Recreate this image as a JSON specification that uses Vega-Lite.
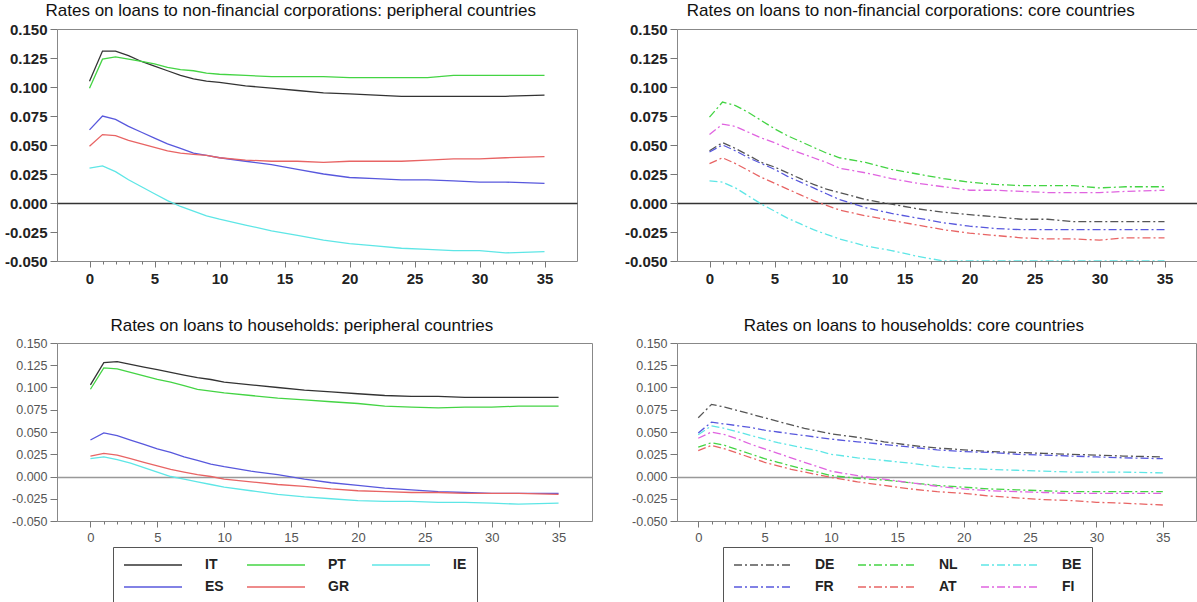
{
  "$schema": "https://vega.github.io/schema/vega-lite/v6.json",
  "padding": {"left": 3, "top": 1, "right": 0, "bottom": 0},
  "config": {
    "font": "Liberation Sans",
    "view": {"stroke": "#888888", "strokeWidth": 1},
    "title": {"fontSize": 17, "fontWeight": "normal", "color": "#111111", "anchor": "middle", "frame": "bounds", "offset": 2},
    "axis": {"domain": false, "grid": false, "tickColor": "#777777", "labelOverlap": false, "labelFlush": false}
  },
  "datasets": {
    "nfcPer": [
      {"c":"IT","x":0,"y":0.105},{"c":"IT","x":1,"y":0.131},{"c":"IT","x":2,"y":0.131},{"c":"IT","x":3,"y":0.127},{"c":"IT","x":4,"y":0.122},{"c":"IT","x":5,"y":0.118},{"c":"IT","x":6,"y":0.114},{"c":"IT","x":7,"y":0.110},{"c":"IT","x":8,"y":0.107},{"c":"IT","x":9,"y":0.105},{"c":"IT","x":10,"y":0.104},{"c":"IT","x":12,"y":0.101},{"c":"IT","x":14,"y":0.099},{"c":"IT","x":16,"y":0.097},{"c":"IT","x":18,"y":0.095},{"c":"IT","x":20,"y":0.094},{"c":"IT","x":22,"y":0.093},{"c":"IT","x":24,"y":0.092},{"c":"IT","x":26,"y":0.092},{"c":"IT","x":28,"y":0.092},{"c":"IT","x":30,"y":0.092},{"c":"IT","x":32,"y":0.092},{"c":"IT","x":35,"y":0.093},
      {"c":"PT","x":0,"y":0.099},{"c":"PT","x":1,"y":0.124},{"c":"PT","x":2,"y":0.126},{"c":"PT","x":3,"y":0.124},{"c":"PT","x":4,"y":0.122},{"c":"PT","x":5,"y":0.120},{"c":"PT","x":6,"y":0.117},{"c":"PT","x":7,"y":0.115},{"c":"PT","x":8,"y":0.114},{"c":"PT","x":9,"y":0.112},{"c":"PT","x":10,"y":0.111},{"c":"PT","x":12,"y":0.110},{"c":"PT","x":14,"y":0.109},{"c":"PT","x":16,"y":0.109},{"c":"PT","x":18,"y":0.109},{"c":"PT","x":20,"y":0.108},{"c":"PT","x":22,"y":0.108},{"c":"PT","x":24,"y":0.108},{"c":"PT","x":26,"y":0.108},{"c":"PT","x":28,"y":0.110},{"c":"PT","x":30,"y":0.110},{"c":"PT","x":32,"y":0.110},{"c":"PT","x":35,"y":0.110},
      {"c":"IE","x":0,"y":0.030},{"c":"IE","x":1,"y":0.032},{"c":"IE","x":2,"y":0.027},{"c":"IE","x":3,"y":0.020},{"c":"IE","x":4,"y":0.014},{"c":"IE","x":5,"y":0.008},{"c":"IE","x":6,"y":0.002},{"c":"IE","x":7,"y":-0.003},{"c":"IE","x":8,"y":-0.007},{"c":"IE","x":9,"y":-0.011},{"c":"IE","x":10,"y":-0.014},{"c":"IE","x":12,"y":-0.019},{"c":"IE","x":14,"y":-0.024},{"c":"IE","x":16,"y":-0.028},{"c":"IE","x":18,"y":-0.032},{"c":"IE","x":20,"y":-0.035},{"c":"IE","x":22,"y":-0.037},{"c":"IE","x":24,"y":-0.039},{"c":"IE","x":26,"y":-0.040},{"c":"IE","x":28,"y":-0.041},{"c":"IE","x":30,"y":-0.041},{"c":"IE","x":32,"y":-0.043},{"c":"IE","x":35,"y":-0.042},
      {"c":"ES","x":0,"y":0.063},{"c":"ES","x":1,"y":0.075},{"c":"ES","x":2,"y":0.072},{"c":"ES","x":3,"y":0.066},{"c":"ES","x":4,"y":0.061},{"c":"ES","x":5,"y":0.056},{"c":"ES","x":6,"y":0.051},{"c":"ES","x":7,"y":0.047},{"c":"ES","x":8,"y":0.043},{"c":"ES","x":9,"y":0.041},{"c":"ES","x":10,"y":0.039},{"c":"ES","x":12,"y":0.036},{"c":"ES","x":14,"y":0.033},{"c":"ES","x":16,"y":0.029},{"c":"ES","x":18,"y":0.025},{"c":"ES","x":20,"y":0.022},{"c":"ES","x":22,"y":0.021},{"c":"ES","x":24,"y":0.020},{"c":"ES","x":26,"y":0.020},{"c":"ES","x":28,"y":0.019},{"c":"ES","x":30,"y":0.018},{"c":"ES","x":32,"y":0.018},{"c":"ES","x":35,"y":0.017},
      {"c":"GR","x":0,"y":0.049},{"c":"GR","x":1,"y":0.059},{"c":"GR","x":2,"y":0.058},{"c":"GR","x":3,"y":0.054},{"c":"GR","x":4,"y":0.051},{"c":"GR","x":5,"y":0.048},{"c":"GR","x":6,"y":0.045},{"c":"GR","x":7,"y":0.043},{"c":"GR","x":8,"y":0.042},{"c":"GR","x":9,"y":0.041},{"c":"GR","x":10,"y":0.039},{"c":"GR","x":12,"y":0.037},{"c":"GR","x":14,"y":0.036},{"c":"GR","x":16,"y":0.036},{"c":"GR","x":18,"y":0.035},{"c":"GR","x":20,"y":0.036},{"c":"GR","x":22,"y":0.036},{"c":"GR","x":24,"y":0.036},{"c":"GR","x":26,"y":0.037},{"c":"GR","x":28,"y":0.038},{"c":"GR","x":30,"y":0.038},{"c":"GR","x":32,"y":0.039},{"c":"GR","x":35,"y":0.040}
    ],
    "nfcCore": [
      {"c":"DE","x":0,"y":0.045},{"c":"DE","x":1,"y":0.052},{"c":"DE","x":2,"y":0.047},{"c":"DE","x":3,"y":0.041},{"c":"DE","x":4,"y":0.035},{"c":"DE","x":5,"y":0.031},{"c":"DE","x":6,"y":0.026},{"c":"DE","x":7,"y":0.021},{"c":"DE","x":8,"y":0.016},{"c":"DE","x":9,"y":0.012},{"c":"DE","x":10,"y":0.009},{"c":"DE","x":12,"y":0.003},{"c":"DE","x":14,"y":-0.001},{"c":"DE","x":16,"y":-0.005},{"c":"DE","x":18,"y":-0.008},{"c":"DE","x":20,"y":-0.010},{"c":"DE","x":22,"y":-0.012},{"c":"DE","x":24,"y":-0.014},{"c":"DE","x":26,"y":-0.014},{"c":"DE","x":28,"y":-0.016},{"c":"DE","x":30,"y":-0.016},{"c":"DE","x":32,"y":-0.016},{"c":"DE","x":35,"y":-0.016},
      {"c":"NL","x":0,"y":0.074},{"c":"NL","x":1,"y":0.087},{"c":"NL","x":2,"y":0.084},{"c":"NL","x":3,"y":0.078},{"c":"NL","x":4,"y":0.071},{"c":"NL","x":5,"y":0.064},{"c":"NL","x":6,"y":0.058},{"c":"NL","x":7,"y":0.053},{"c":"NL","x":8,"y":0.048},{"c":"NL","x":9,"y":0.043},{"c":"NL","x":10,"y":0.039},{"c":"NL","x":12,"y":0.035},{"c":"NL","x":14,"y":0.029},{"c":"NL","x":16,"y":0.025},{"c":"NL","x":18,"y":0.021},{"c":"NL","x":20,"y":0.018},{"c":"NL","x":22,"y":0.016},{"c":"NL","x":24,"y":0.015},{"c":"NL","x":26,"y":0.015},{"c":"NL","x":28,"y":0.015},{"c":"NL","x":30,"y":0.013},{"c":"NL","x":32,"y":0.014},{"c":"NL","x":35,"y":0.014},
      {"c":"BE","x":0,"y":0.019},{"c":"BE","x":1,"y":0.018},{"c":"BE","x":2,"y":0.013},{"c":"BE","x":3,"y":0.006},{"c":"BE","x":4,"y":-0.001},{"c":"BE","x":5,"y":-0.007},{"c":"BE","x":6,"y":-0.013},{"c":"BE","x":7,"y":-0.018},{"c":"BE","x":8,"y":-0.023},{"c":"BE","x":9,"y":-0.027},{"c":"BE","x":10,"y":-0.031},{"c":"BE","x":12,"y":-0.037},{"c":"BE","x":14,"y":-0.041},{"c":"BE","x":16,"y":-0.046},{"c":"BE","x":18,"y":-0.050},{"c":"BE","x":20,"y":-0.050},{"c":"BE","x":22,"y":-0.050},{"c":"BE","x":24,"y":-0.050},{"c":"BE","x":26,"y":-0.050},{"c":"BE","x":28,"y":-0.050},{"c":"BE","x":30,"y":-0.050},{"c":"BE","x":32,"y":-0.050},{"c":"BE","x":35,"y":-0.050},
      {"c":"FR","x":0,"y":0.044},{"c":"FR","x":1,"y":0.050},{"c":"FR","x":2,"y":0.045},{"c":"FR","x":3,"y":0.039},{"c":"FR","x":4,"y":0.034},{"c":"FR","x":5,"y":0.029},{"c":"FR","x":6,"y":0.023},{"c":"FR","x":7,"y":0.018},{"c":"FR","x":8,"y":0.013},{"c":"FR","x":9,"y":0.008},{"c":"FR","x":10,"y":0.003},{"c":"FR","x":12,"y":-0.004},{"c":"FR","x":14,"y":-0.009},{"c":"FR","x":16,"y":-0.013},{"c":"FR","x":18,"y":-0.017},{"c":"FR","x":20,"y":-0.020},{"c":"FR","x":22,"y":-0.022},{"c":"FR","x":24,"y":-0.023},{"c":"FR","x":26,"y":-0.023},{"c":"FR","x":28,"y":-0.023},{"c":"FR","x":30,"y":-0.023},{"c":"FR","x":32,"y":-0.023},{"c":"FR","x":35,"y":-0.023},
      {"c":"AT","x":0,"y":0.034},{"c":"AT","x":1,"y":0.039},{"c":"AT","x":2,"y":0.034},{"c":"AT","x":3,"y":0.028},{"c":"AT","x":4,"y":0.022},{"c":"AT","x":5,"y":0.017},{"c":"AT","x":6,"y":0.012},{"c":"AT","x":7,"y":0.007},{"c":"AT","x":8,"y":0.002},{"c":"AT","x":9,"y":-0.002},{"c":"AT","x":10,"y":-0.006},{"c":"AT","x":12,"y":-0.011},{"c":"AT","x":14,"y":-0.015},{"c":"AT","x":16,"y":-0.019},{"c":"AT","x":18,"y":-0.023},{"c":"AT","x":20,"y":-0.026},{"c":"AT","x":22,"y":-0.028},{"c":"AT","x":24,"y":-0.030},{"c":"AT","x":26,"y":-0.031},{"c":"AT","x":28,"y":-0.031},{"c":"AT","x":30,"y":-0.032},{"c":"AT","x":32,"y":-0.030},{"c":"AT","x":35,"y":-0.030},
      {"c":"FI","x":0,"y":0.059},{"c":"FI","x":1,"y":0.068},{"c":"FI","x":2,"y":0.066},{"c":"FI","x":3,"y":0.061},{"c":"FI","x":4,"y":0.056},{"c":"FI","x":5,"y":0.052},{"c":"FI","x":6,"y":0.047},{"c":"FI","x":7,"y":0.043},{"c":"FI","x":8,"y":0.039},{"c":"FI","x":9,"y":0.035},{"c":"FI","x":10,"y":0.030},{"c":"FI","x":12,"y":0.026},{"c":"FI","x":14,"y":0.021},{"c":"FI","x":16,"y":0.017},{"c":"FI","x":18,"y":0.014},{"c":"FI","x":20,"y":0.011},{"c":"FI","x":22,"y":0.011},{"c":"FI","x":24,"y":0.010},{"c":"FI","x":26,"y":0.009},{"c":"FI","x":28,"y":0.009},{"c":"FI","x":30,"y":0.009},{"c":"FI","x":32,"y":0.010},{"c":"FI","x":35,"y":0.011}
    ],
    "hhPer": [
      {"c":"IT","x":0,"y":0.103},{"c":"IT","x":1,"y":0.128},{"c":"IT","x":2,"y":0.129},{"c":"IT","x":3,"y":0.126},{"c":"IT","x":4,"y":0.123},{"c":"IT","x":5,"y":0.120},{"c":"IT","x":6,"y":0.117},{"c":"IT","x":7,"y":0.114},{"c":"IT","x":8,"y":0.111},{"c":"IT","x":9,"y":0.109},{"c":"IT","x":10,"y":0.106},{"c":"IT","x":12,"y":0.103},{"c":"IT","x":14,"y":0.100},{"c":"IT","x":16,"y":0.097},{"c":"IT","x":18,"y":0.095},{"c":"IT","x":20,"y":0.093},{"c":"IT","x":22,"y":0.091},{"c":"IT","x":24,"y":0.090},{"c":"IT","x":26,"y":0.090},{"c":"IT","x":28,"y":0.089},{"c":"IT","x":30,"y":0.089},{"c":"IT","x":32,"y":0.089},{"c":"IT","x":35,"y":0.089},
      {"c":"PT","x":0,"y":0.098},{"c":"PT","x":1,"y":0.122},{"c":"PT","x":2,"y":0.121},{"c":"PT","x":3,"y":0.117},{"c":"PT","x":4,"y":0.113},{"c":"PT","x":5,"y":0.109},{"c":"PT","x":6,"y":0.106},{"c":"PT","x":7,"y":0.102},{"c":"PT","x":8,"y":0.098},{"c":"PT","x":9,"y":0.096},{"c":"PT","x":10,"y":0.094},{"c":"PT","x":12,"y":0.091},{"c":"PT","x":14,"y":0.088},{"c":"PT","x":16,"y":0.086},{"c":"PT","x":18,"y":0.084},{"c":"PT","x":20,"y":0.082},{"c":"PT","x":22,"y":0.079},{"c":"PT","x":24,"y":0.078},{"c":"PT","x":26,"y":0.077},{"c":"PT","x":28,"y":0.078},{"c":"PT","x":30,"y":0.078},{"c":"PT","x":32,"y":0.079},{"c":"PT","x":35,"y":0.079},
      {"c":"IE","x":0,"y":0.020},{"c":"IE","x":1,"y":0.022},{"c":"IE","x":2,"y":0.019},{"c":"IE","x":3,"y":0.015},{"c":"IE","x":4,"y":0.010},{"c":"IE","x":5,"y":0.005},{"c":"IE","x":6,"y":0.000},{"c":"IE","x":7,"y":-0.003},{"c":"IE","x":8,"y":-0.006},{"c":"IE","x":9,"y":-0.009},{"c":"IE","x":10,"y":-0.012},{"c":"IE","x":12,"y":-0.016},{"c":"IE","x":14,"y":-0.020},{"c":"IE","x":16,"y":-0.023},{"c":"IE","x":18,"y":-0.025},{"c":"IE","x":20,"y":-0.027},{"c":"IE","x":22,"y":-0.028},{"c":"IE","x":24,"y":-0.028},{"c":"IE","x":26,"y":-0.029},{"c":"IE","x":28,"y":-0.029},{"c":"IE","x":30,"y":-0.030},{"c":"IE","x":32,"y":-0.031},{"c":"IE","x":35,"y":-0.030},
      {"c":"ES","x":0,"y":0.041},{"c":"ES","x":1,"y":0.049},{"c":"ES","x":2,"y":0.046},{"c":"ES","x":3,"y":0.041},{"c":"ES","x":4,"y":0.036},{"c":"ES","x":5,"y":0.031},{"c":"ES","x":6,"y":0.027},{"c":"ES","x":7,"y":0.022},{"c":"ES","x":8,"y":0.018},{"c":"ES","x":9,"y":0.014},{"c":"ES","x":10,"y":0.011},{"c":"ES","x":12,"y":0.006},{"c":"ES","x":14,"y":0.002},{"c":"ES","x":16,"y":-0.003},{"c":"ES","x":18,"y":-0.007},{"c":"ES","x":20,"y":-0.010},{"c":"ES","x":22,"y":-0.013},{"c":"ES","x":24,"y":-0.015},{"c":"ES","x":26,"y":-0.017},{"c":"ES","x":28,"y":-0.018},{"c":"ES","x":30,"y":-0.019},{"c":"ES","x":32,"y":-0.019},{"c":"ES","x":35,"y":-0.019},
      {"c":"GR","x":0,"y":0.023},{"c":"GR","x":1,"y":0.026},{"c":"GR","x":2,"y":0.024},{"c":"GR","x":3,"y":0.020},{"c":"GR","x":4,"y":0.016},{"c":"GR","x":5,"y":0.012},{"c":"GR","x":6,"y":0.008},{"c":"GR","x":7,"y":0.005},{"c":"GR","x":8,"y":0.002},{"c":"GR","x":9,"y":0.000},{"c":"GR","x":10,"y":-0.003},{"c":"GR","x":12,"y":-0.006},{"c":"GR","x":14,"y":-0.009},{"c":"GR","x":16,"y":-0.011},{"c":"GR","x":18,"y":-0.014},{"c":"GR","x":20,"y":-0.016},{"c":"GR","x":22,"y":-0.017},{"c":"GR","x":24,"y":-0.018},{"c":"GR","x":26,"y":-0.018},{"c":"GR","x":28,"y":-0.019},{"c":"GR","x":30,"y":-0.019},{"c":"GR","x":32,"y":-0.019},{"c":"GR","x":35,"y":-0.020}
    ],
    "hhCore": [
      {"c":"DE","x":0,"y":0.066},{"c":"DE","x":1,"y":0.081},{"c":"DE","x":2,"y":0.078},{"c":"DE","x":3,"y":0.074},{"c":"DE","x":4,"y":0.070},{"c":"DE","x":5,"y":0.066},{"c":"DE","x":6,"y":0.062},{"c":"DE","x":7,"y":0.058},{"c":"DE","x":8,"y":0.054},{"c":"DE","x":9,"y":0.051},{"c":"DE","x":10,"y":0.048},{"c":"DE","x":12,"y":0.044},{"c":"DE","x":14,"y":0.039},{"c":"DE","x":16,"y":0.035},{"c":"DE","x":18,"y":0.032},{"c":"DE","x":20,"y":0.030},{"c":"DE","x":22,"y":0.028},{"c":"DE","x":24,"y":0.027},{"c":"DE","x":26,"y":0.026},{"c":"DE","x":28,"y":0.025},{"c":"DE","x":30,"y":0.024},{"c":"DE","x":32,"y":0.023},{"c":"DE","x":35,"y":0.022},
      {"c":"NL","x":0,"y":0.033},{"c":"NL","x":1,"y":0.038},{"c":"NL","x":2,"y":0.035},{"c":"NL","x":3,"y":0.030},{"c":"NL","x":4,"y":0.025},{"c":"NL","x":5,"y":0.020},{"c":"NL","x":6,"y":0.016},{"c":"NL","x":7,"y":0.012},{"c":"NL","x":8,"y":0.008},{"c":"NL","x":9,"y":0.005},{"c":"NL","x":10,"y":0.001},{"c":"NL","x":12,"y":-0.002},{"c":"NL","x":14,"y":-0.004},{"c":"NL","x":16,"y":-0.007},{"c":"NL","x":18,"y":-0.010},{"c":"NL","x":20,"y":-0.012},{"c":"NL","x":22,"y":-0.014},{"c":"NL","x":24,"y":-0.015},{"c":"NL","x":26,"y":-0.016},{"c":"NL","x":28,"y":-0.017},{"c":"NL","x":30,"y":-0.017},{"c":"NL","x":32,"y":-0.017},{"c":"NL","x":35,"y":-0.017},
      {"c":"BE","x":0,"y":0.047},{"c":"BE","x":1,"y":0.057},{"c":"BE","x":2,"y":0.054},{"c":"BE","x":3,"y":0.050},{"c":"BE","x":4,"y":0.046},{"c":"BE","x":5,"y":0.042},{"c":"BE","x":6,"y":0.038},{"c":"BE","x":7,"y":0.035},{"c":"BE","x":8,"y":0.032},{"c":"BE","x":9,"y":0.029},{"c":"BE","x":10,"y":0.025},{"c":"BE","x":12,"y":0.021},{"c":"BE","x":14,"y":0.018},{"c":"BE","x":16,"y":0.015},{"c":"BE","x":18,"y":0.011},{"c":"BE","x":20,"y":0.009},{"c":"BE","x":22,"y":0.008},{"c":"BE","x":24,"y":0.007},{"c":"BE","x":26,"y":0.006},{"c":"BE","x":28,"y":0.005},{"c":"BE","x":30,"y":0.005},{"c":"BE","x":32,"y":0.005},{"c":"BE","x":35,"y":0.004},
      {"c":"FR","x":0,"y":0.049},{"c":"FR","x":1,"y":0.061},{"c":"FR","x":2,"y":0.059},{"c":"FR","x":3,"y":0.057},{"c":"FR","x":4,"y":0.055},{"c":"FR","x":5,"y":0.052},{"c":"FR","x":6,"y":0.050},{"c":"FR","x":7,"y":0.048},{"c":"FR","x":8,"y":0.046},{"c":"FR","x":9,"y":0.044},{"c":"FR","x":10,"y":0.042},{"c":"FR","x":12,"y":0.039},{"c":"FR","x":14,"y":0.036},{"c":"FR","x":16,"y":0.033},{"c":"FR","x":18,"y":0.030},{"c":"FR","x":20,"y":0.028},{"c":"FR","x":22,"y":0.027},{"c":"FR","x":24,"y":0.025},{"c":"FR","x":26,"y":0.024},{"c":"FR","x":28,"y":0.023},{"c":"FR","x":30,"y":0.022},{"c":"FR","x":32,"y":0.021},{"c":"FR","x":35,"y":0.020},
      {"c":"AT","x":0,"y":0.029},{"c":"AT","x":1,"y":0.035},{"c":"AT","x":2,"y":0.031},{"c":"AT","x":3,"y":0.026},{"c":"AT","x":4,"y":0.021},{"c":"AT","x":5,"y":0.016},{"c":"AT","x":6,"y":0.012},{"c":"AT","x":7,"y":0.008},{"c":"AT","x":8,"y":0.005},{"c":"AT","x":9,"y":0.002},{"c":"AT","x":10,"y":-0.001},{"c":"AT","x":12,"y":-0.006},{"c":"AT","x":14,"y":-0.010},{"c":"AT","x":16,"y":-0.014},{"c":"AT","x":18,"y":-0.017},{"c":"AT","x":20,"y":-0.019},{"c":"AT","x":22,"y":-0.022},{"c":"AT","x":24,"y":-0.024},{"c":"AT","x":26,"y":-0.026},{"c":"AT","x":28,"y":-0.027},{"c":"AT","x":30,"y":-0.029},{"c":"AT","x":32,"y":-0.030},{"c":"AT","x":35,"y":-0.032},
      {"c":"FI","x":0,"y":0.043},{"c":"FI","x":1,"y":0.050},{"c":"FI","x":2,"y":0.047},{"c":"FI","x":3,"y":0.042},{"c":"FI","x":4,"y":0.036},{"c":"FI","x":5,"y":0.031},{"c":"FI","x":6,"y":0.026},{"c":"FI","x":7,"y":0.021},{"c":"FI","x":8,"y":0.016},{"c":"FI","x":9,"y":0.011},{"c":"FI","x":10,"y":0.006},{"c":"FI","x":12,"y":0.001},{"c":"FI","x":14,"y":-0.003},{"c":"FI","x":16,"y":-0.007},{"c":"FI","x":18,"y":-0.011},{"c":"FI","x":20,"y":-0.014},{"c":"FI","x":22,"y":-0.016},{"c":"FI","x":24,"y":-0.017},{"c":"FI","x":26,"y":-0.018},{"c":"FI","x":28,"y":-0.019},{"c":"FI","x":30,"y":-0.019},{"c":"FI","x":32,"y":-0.019},{"c":"FI","x":35,"y":-0.019}
    ]
  },
  "columns": 2,
  "align": "each",
  "bounds": "full",
  "spacing": {"row": 29, "column": 30},
  "resolve": {"scale": {"x": "independent", "y": "independent", "color": "independent"}, "legend": {"color": "independent"}},
  "concat": [
    {
      "title": {"text": "Rates on loans to non-financial corporations: peripheral countries"},
      "width": 520, "height": 232,
      "data": {"name": "nfcPer"},
      "mark": {"type": "line", "strokeWidth": 1.3, "clip": true},
      "encoding": {
        "x": {"field": "x", "type": "quantitative", "scale": {"domain": [-2.5, 37.5], "nice": false, "zero": false},
              "axis": {"title": null, "values": [0,1,2,3,4,5,6,7,8,9,10,11,12,13,14,15,16,17,18,19,20,21,22,23,24,25,26,27,28,29,30,31,32,33,34,35],
                       "labelExpr": "datum.value % 5 === 0 ? datum.label : ''", "labelOverlap": false,
                       "tickSize": {"condition": {"test": "datum.value % 5 === 0", "value": 6}, "value": 3},
                       "labelFontSize": 15, "labelFontWeight": "bold", "labelColor": "#222222", "labelPadding": 4}},
        "y": {"field": "y", "type": "quantitative", "scale": {"domain": [-0.05, 0.15], "nice": false, "zero": false},
              "axis": {"title": null, "values": [-0.05,-0.025,0,0.025,0.05,0.075,0.1,0.125,0.15], "labelOverlap": false,
                       "labelExpr": "(datum.value < 0 ? '-' : '') + format(abs(datum.value), '.3f')",
                       "grid": true, "gridColor": "#333333", "gridWidth": 1.5,
                       "gridOpacity": {"condition": {"test": "datum.value === 0", "value": 1}, "value": 0},
                       "tickSize": 7, "labelPadding": 3, "labelFontSize": 15, "labelFontWeight": "bold", "labelColor": "#222222"}},
        "color": {"field": "c", "type": "nominal",
                  "scale": {"domain": ["IT","ES","PT","GR","IE"], "range": ["#333333","#5858dd","#44d444","#e86464","#5ee6e6"]},
                  "legend": null}
      }
    },
    {
      "title": {"text": "Rates on loans to non-financial corporations: core countries"},
      "width": 520, "height": 232,
      "data": {"name": "nfcCore"},
      "mark": {"type": "line", "strokeWidth": 1.3, "clip": true, "strokeDash": [8,3,2,3]},
      "encoding": {
        "x": {"field": "x", "type": "quantitative", "scale": {"domain": [-2.5, 37.5], "nice": false, "zero": false},
              "axis": {"title": null, "values": [0,1,2,3,4,5,6,7,8,9,10,11,12,13,14,15,16,17,18,19,20,21,22,23,24,25,26,27,28,29,30,31,32,33,34,35],
                       "labelExpr": "datum.value % 5 === 0 ? datum.label : ''", "labelOverlap": false,
                       "tickSize": {"condition": {"test": "datum.value % 5 === 0", "value": 6}, "value": 3},
                       "labelFontSize": 15, "labelFontWeight": "bold", "labelColor": "#222222", "labelPadding": 4}},
        "y": {"field": "y", "type": "quantitative", "scale": {"domain": [-0.05, 0.15], "nice": false, "zero": false},
              "axis": {"title": null, "values": [-0.05,-0.025,0,0.025,0.05,0.075,0.1,0.125,0.15], "labelOverlap": false,
                       "labelExpr": "(datum.value < 0 ? '-' : '') + format(abs(datum.value), '.3f')",
                       "grid": true, "gridColor": "#333333", "gridWidth": 1.5,
                       "gridOpacity": {"condition": {"test": "datum.value === 0", "value": 1}, "value": 0},
                       "tickSize": 7, "labelPadding": 3, "labelFontSize": 15, "labelFontWeight": "bold", "labelColor": "#222222"}},
        "color": {"field": "c", "type": "nominal",
                  "scale": {"domain": ["DE","FR","NL","AT","BE","FI"], "range": ["#555555","#5858dd","#44d444","#e86464","#5ee6e6","#e064e0"]},
                  "legend": null}
      }
    },
    {
      "title": {"text": "Rates on loans to households: peripheral countries"},
      "width": 535, "height": 178,
      "data": {"name": "hhPer"},
      "mark": {"type": "line", "strokeWidth": 1.3, "clip": true},
      "encoding": {
        "x": {"field": "x", "type": "quantitative", "scale": {"domain": [-2.5, 37.5], "nice": false, "zero": false},
              "axis": {"title": null, "values": [0,1,2,3,4,5,6,7,8,9,10,11,12,13,14,15,16,17,18,19,20,21,22,23,24,25,26,27,28,29,30,31,32,33,34,35],
                       "labelExpr": "datum.value % 5 === 0 ? datum.label : ''", "labelOverlap": false,
                       "tickSize": {"condition": {"test": "datum.value % 5 === 0", "value": 6}, "value": 3},
                       "labelFontSize": 13, "labelColor": "#555555", "labelPadding": 4}},
        "y": {"field": "y", "type": "quantitative", "scale": {"domain": [-0.05, 0.15], "nice": false, "zero": false},
              "axis": {"title": null, "values": [-0.05,-0.025,0,0.025,0.05,0.075,0.1,0.125,0.15], "labelOverlap": false,
                       "labelExpr": "(datum.value < 0 ? '-' : '') + format(abs(datum.value), '.3f')",
                       "grid": true, "gridColor": "#999999", "gridWidth": 1.5,
                       "gridOpacity": {"condition": {"test": "datum.value === 0", "value": 1}, "value": 0},
                       "tickSize": 7, "labelPadding": 3, "labelFontSize": 12.5, "labelColor": "#555555"}},
        "color": {"field": "c", "type": "nominal",
                  "scale": {"domain": ["IT","ES","PT","GR","IE"], "range": ["#333333","#5858dd","#44d444","#e86464","#5ee6e6"]},
                  "legend": {"orient": "none", "legendX": 56, "legendY": 204, "columns": 3, "title": null,
                             "symbolType": "stroke", "symbolSize": 3364, "symbolStrokeWidth": 1.5, "clipHeight": 16,
                             "labelFontSize": 14, "labelFontWeight": "bold", "labelColor": "#222222", "labelOffset": 22,
                             "columnPadding": 22, "rowPadding": 6, "padding": 10, "strokeColor": "#555555"}}
      }
    },
    {
      "title": {"text": "Rates on loans to households: core countries"},
      "width": 519, "height": 178,
      "data": {"name": "hhCore"},
      "mark": {"type": "line", "strokeWidth": 1.3, "clip": true, "strokeDash": [8,3,2,3]},
      "encoding": {
        "x": {"field": "x", "type": "quantitative", "scale": {"domain": [-1.6, 37.5], "nice": false, "zero": false},
              "axis": {"title": null, "values": [0,1,2,3,4,5,6,7,8,9,10,11,12,13,14,15,16,17,18,19,20,21,22,23,24,25,26,27,28,29,30,31,32,33,34,35],
                       "labelExpr": "datum.value % 5 === 0 ? datum.label : ''", "labelOverlap": false,
                       "tickSize": {"condition": {"test": "datum.value % 5 === 0", "value": 6}, "value": 3},
                       "labelFontSize": 13, "labelColor": "#555555", "labelPadding": 4}},
        "y": {"field": "y", "type": "quantitative", "scale": {"domain": [-0.05, 0.15], "nice": false, "zero": false},
              "axis": {"title": null, "values": [-0.05,-0.025,0,0.025,0.05,0.075,0.1,0.125,0.15], "labelOverlap": false,
                       "labelExpr": "(datum.value < 0 ? '-' : '') + format(abs(datum.value), '.3f')",
                       "grid": true, "gridColor": "#999999", "gridWidth": 1.5,
                       "gridOpacity": {"condition": {"test": "datum.value === 0", "value": 1}, "value": 0},
                       "tickSize": 7, "labelPadding": 3, "labelFontSize": 12.5, "labelColor": "#555555"}},
        "color": {"field": "c", "type": "nominal",
                  "scale": {"domain": ["DE","FR","NL","AT","BE","FI"], "range": ["#555555","#5858dd","#44d444","#e86464","#5ee6e6","#e064e0"]},
                  "legend": {"orient": "none", "legendX": 46, "legendY": 204, "columns": 3, "title": null,
                             "symbolType": "stroke", "symbolSize": 3364, "symbolStrokeWidth": 1.5, "clipHeight": 16,
                             "symbolDash": [8,3,2,3],
                             "labelFontSize": 14, "labelFontWeight": "bold", "labelColor": "#222222", "labelOffset": 22,
                             "columnPadding": 22, "rowPadding": 6, "padding": 10, "strokeColor": "#555555"}}
      }
    }
  ]
}
